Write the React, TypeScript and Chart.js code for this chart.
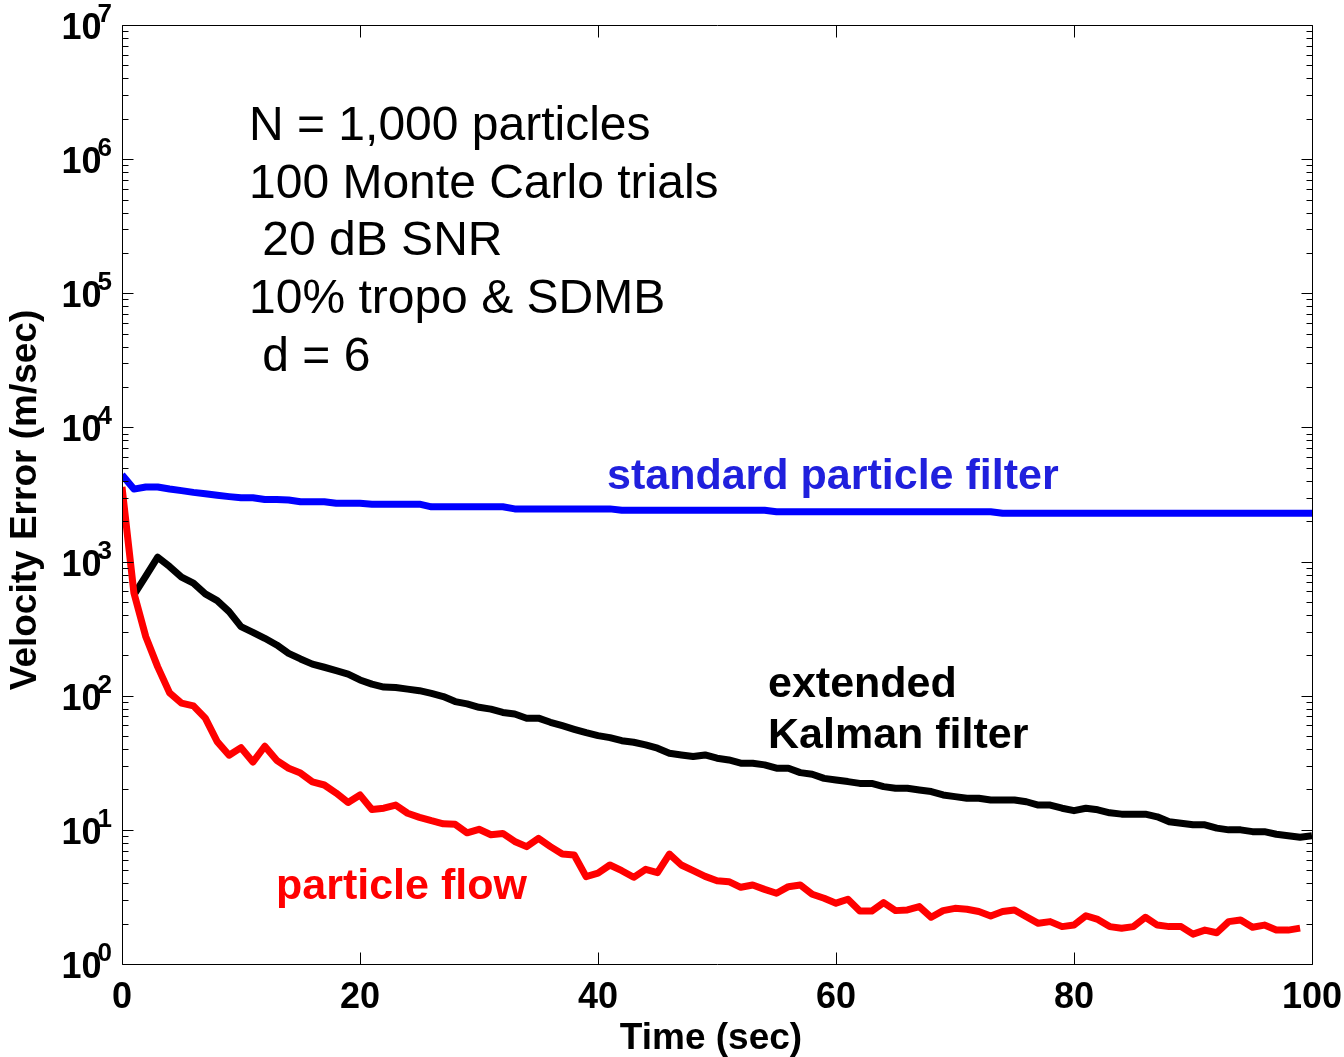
import React, { useEffect, useRef } from 'react';
import { Chart, registerables } from 'chart.js';

Chart.register(...registerables);

// ---- data ----
const xTicks = [0, 20, 40, 60, 80, 100];
const yDecades = [0, 1, 2, 3, 4, 5, 6, 7];

// standard particle filter, t = 0..100
const blueStart = 0;
const blueValues = [
  4430, 3470, 3600, 3600, 3480, 3380, 3280, 3200, 3120, 3050,
  2990, 2990, 2900, 2900, 2880, 2790, 2790, 2790, 2720, 2720,
  2720, 2680, 2680, 2680, 2680, 2680, 2560, 2560, 2560, 2560,
  2560, 2560, 2560, 2470, 2470, 2470, 2470, 2470, 2470, 2470,
  2470, 2470, 2410, 2410, 2410, 2410, 2410, 2410, 2410, 2410,
  2410, 2410, 2410, 2410, 2410, 2350, 2350, 2350, 2350, 2350,
  2350, 2350, 2350, 2350, 2350, 2350, 2350, 2350, 2350, 2350,
  2350, 2350, 2350, 2350, 2290, 2290, 2290, 2290, 2290, 2290,
  2290, 2290, 2290, 2290, 2290, 2290, 2290, 2290, 2290, 2290,
  2290, 2290, 2290, 2290, 2290, 2290, 2290, 2290, 2290, 2290,
  2290,
];

// extended Kalman filter, t = 1..100
const blackStart = 1;
const blackValues = [
  565, 780, 1078, 918, 765, 690, 574, 512, 424, 327,
  297, 268, 239, 207, 188, 172, 163, 154, 145, 131,
  122, 116, 115, 112, 109, 104, 98.6, 90.4, 86.9, 82,
  79.4, 75, 73, 68, 68, 63.4, 59.8, 56.2, 53, 50.4,
  48.7, 46.2, 45, 43, 40.6, 37.2, 36.2, 35.2, 36.2, 34.2,
  33.2, 31.4, 31.4, 30.5, 28.8, 28.8, 26.7, 26, 24.2, 23.5,
  22.9, 22.2, 22.2, 21, 20.4, 20.4, 19.8, 19.3, 18.2, 17.7,
  17.2, 17.2, 16.7, 16.7, 16.7, 16.2, 15.3, 15.3, 14.5, 13.9,
  14.5, 14.1, 13.4, 13.1, 13.1, 13.1, 12.5, 11.5, 11.2, 10.9,
  10.9, 10.3, 10, 10, 9.7, 9.7, 9.27, 9.05, 8.8, 9.05,
];

// particle flow, t = 0..99
const redStart = 0;
const redValues = [
  3600, 585, 275, 164, 105, 88, 84, 68, 45.5, 36,
  41, 32, 42, 33, 28.8, 26.5, 22.8, 21.6, 18.8, 16,
  18.2, 14.2, 14.5, 15.3, 13.3, 12.4, 11.7, 11.1, 11, 9.5,
  10.1, 9.2, 9.4, 8.2, 7.5, 8.65, 7.5, 6.6, 6.5, 4.48,
  4.75, 5.47, 4.96, 4.43, 5.08, 4.8, 6.6, 5.47, 4.96, 4.5,
  4.18, 4.11, 3.73, 3.88, 3.6, 3.37, 3.77, 3.88, 3.31, 3.09,
  2.84, 3.04, 2.48, 2.48, 2.87, 2.5, 2.53, 2.68, 2.23, 2.5,
  2.6, 2.56, 2.46, 2.28, 2.46, 2.53, 2.25, 2.01, 2.07, 1.9,
  1.95, 2.29, 2.15, 1.9, 1.85, 1.9, 2.23, 1.95, 1.9, 1.9,
  1.67, 1.79, 1.71, 2.07, 2.13, 1.88, 1.95, 1.79, 1.79, 1.85,
];

const infoLines = [
  'N = 1,000 particles',
  '100 Monte Carlo trials',
  ' 20 dB SNR',
  '10% tropo & SDMB',
  ' d = 6',
];

const FONT = '"Liberation Sans", Arial, Helvetica, sans-serif';

const toPoints = (vals: number[], start: number) =>
  vals.map((v, i) => ({ x: start + i, y: v }));

const axesPlugin = {
  id: 'matlabAxes',
  afterDraw(chart: any) {
    const { ctx, chartArea: a } = chart;
    const xs = chart.scales.x;
    const ys = chart.scales.y;
    const L = Math.round(a.left) + 0.5;
    const R = Math.round(a.right) + 0.5;
    const T = Math.round(a.top) + 0.5;
    const B = Math.round(a.bottom) + 0.5;
    ctx.save();
    ctx.strokeStyle = '#000';
    ctx.lineWidth = 1;
    ctx.beginPath();
    ctx.rect(L, T, R - L, B - T);
    // y ticks
    for (let k = 0; k < yDecades.length; k++) {
      const d = yDecades[k];
      const py = Math.round(ys.getPixelForValue(Math.pow(10, d))) + 0.5;
      ctx.moveTo(L, py); ctx.lineTo(L + 11, py);
      ctx.moveTo(R, py); ctx.lineTo(R - 11, py);
      if (k < yDecades.length - 1) {
        for (let m = 2; m <= 9; m++) {
          const pm = Math.round(ys.getPixelForValue(m * Math.pow(10, d))) + 0.5;
          ctx.moveTo(L, pm); ctx.lineTo(L + 6, pm);
          ctx.moveTo(R, pm); ctx.lineTo(R - 6, pm);
        }
      }
    }
    // x ticks
    for (const v of xTicks) {
      const px = Math.round(xs.getPixelForValue(v)) + 0.5;
      ctx.moveTo(px, B); ctx.lineTo(px, B - 12);
      ctx.moveTo(px, T); ctx.lineTo(px, T + 12);
    }
    ctx.stroke();

    ctx.fillStyle = '#000';
    // y tick labels 10^k
    for (const d of yDecades) {
      const py = ys.getPixelForValue(Math.pow(10, d));
      ctx.font = `bold 36px ${FONT}`;
      ctx.textAlign = 'right';
      ctx.textBaseline = 'alphabetic';
      ctx.fillText('10', 101.5, py + 14);
      ctx.font = `bold 26px ${FONT}`;
      ctx.textAlign = 'left';
      ctx.fillText(String(d), 97.5, py - 3);
    }
    // x tick labels
    ctx.font = `bold 36px ${FONT}`;
    ctx.textAlign = 'center';
    for (const v of xTicks) {
      ctx.fillText(String(v), xs.getPixelForValue(v), 1008);
    }
    // axis titles
    ctx.font = `bold 37px ${FONT}`;
    ctx.fillText('Time (sec)', 711, 1049);
    ctx.save();
    ctx.translate(36, 500);
    ctx.rotate(-Math.PI / 2);
    ctx.textAlign = 'center';
    ctx.fillText('Velocity Error (m/sec)', 0, 0);
    ctx.restore();

    // annotations
    ctx.textAlign = 'left';
    ctx.font = `48px ${FONT}`;
    const baselines = [140, 198, 255, 313, 371];
    infoLines.forEach((s, i) => ctx.fillText(s, 249, baselines[i]));

    ctx.font = `bold 43px ${FONT}`;
    ctx.fillStyle = '#2020dd';
    ctx.fillText('standard particle filter', 607, 489);
    ctx.fillStyle = '#000';
    ctx.fillText('extended', 768, 697);
    ctx.fillText('Kalman filter', 768, 748);
    ctx.fillStyle = '#ff0000';
    ctx.fillText('particle flow', 276, 899);
    ctx.restore();
  },
};

export default function App() {
  const ref = useRef<HTMLCanvasElement | null>(null);
  useEffect(() => {
    if (!ref.current) return;
    const chart = new Chart(ref.current, {
      type: 'line',
      data: {
        datasets: [
          {
            label: 'particle flow',
            data: toPoints(redValues, redStart),
            borderColor: '#ff0000',
            borderWidth: 7,
            pointRadius: 0,
            borderJoinStyle: 'round',
            fill: false,
          },
          {
            label: 'extended Kalman filter',
            data: toPoints(blackValues, blackStart),
            borderColor: '#000000',
            borderWidth: 7,
            pointRadius: 0,
            borderJoinStyle: 'round',
            fill: false,
          },
          {
            label: 'standard particle filter',
            data: toPoints(blueValues, blueStart),
            borderColor: '#0000ff',
            borderWidth: 7,
            pointRadius: 0,
            borderJoinStyle: 'round',
            fill: false,
          },
        ],
      },
      options: {
        animation: false,
        responsive: false,
        maintainAspectRatio: false,
        devicePixelRatio: 1,
        layout: { padding: { top: 25, right: 32, left: 0, bottom: 0 } },
        plugins: { legend: { display: false }, tooltip: { enabled: false } },
        scales: {
          x: {
            type: 'linear',
            min: 0,
            max: 100,
            ticks: { display: false },
            grid: { display: false },
            border: { display: false },
            afterFit: (s: any) => { s.height = 93; },
          },
          y: {
            type: 'logarithmic',
            min: 1,
            max: 1e7,
            ticks: { display: false },
            grid: { display: false },
            border: { display: false },
            afterFit: (s: any) => { s.width = 122; },
          },
        },
      } as any,
      plugins: [axesPlugin],
    });
    return () => chart.destroy();
  }, []);
  return (
    <div style={{ position: 'fixed', left: 0, top: 0, width: 1344, height: 1057, background: '#fff' }}>
      <canvas ref={ref} width={1344} height={1057} style={{ width: 1344, height: 1057, display: 'block' }} />
    </div>
  );
}
